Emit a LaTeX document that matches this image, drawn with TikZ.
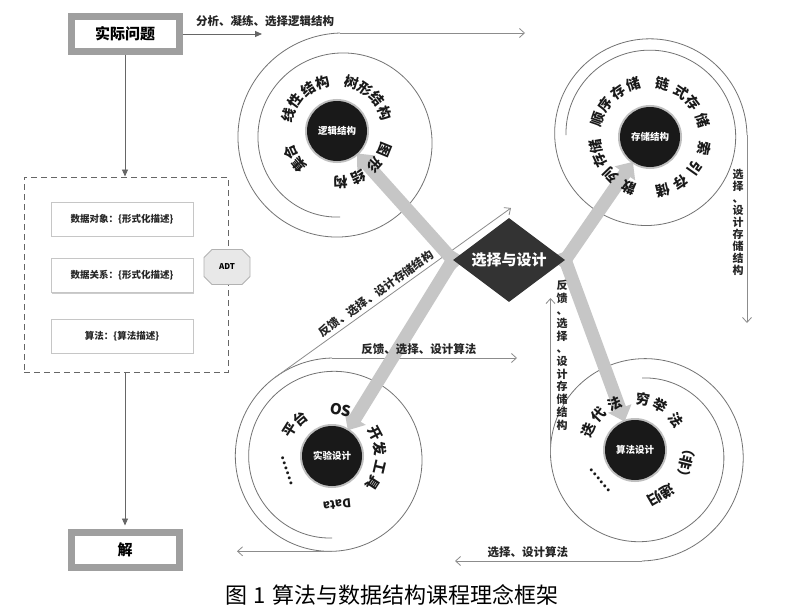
\documentclass[tikz,border=0pt]{standalone}
\usepackage{fontspec}
\newfontfamily\cjk{Noto Sans CJK SC}
\usetikzlibrary{calc, positioning}
\usetikzlibrary{arrows.meta}
\usetikzlibrary{shapes.geometric, shapes.misc}
\usetikzlibrary{backgrounds, shadows}

\tikzset{
  framebox/.style={draw=gray!75, line width=7pt, fill=white, minimum width=108pt, minimum height=35pt,
    font=\cjk\bfseries\fontsize{15}{15}\selectfont},
  dashbox/.style={draw=black!60, dash pattern=on 6pt off 4pt, line width=1pt, inner sep=0pt},
  itembox/.style={draw=gray!45, line width=0.8pt, fill=white, minimum width=142pt, minimum height=34pt,
    font=\cjk\bfseries\fontsize{9.5}{10}\selectfont, text=black!85,
    drop shadow={shadow xshift=1.2pt, shadow yshift=-1.2pt, fill=black, opacity=0.2}},
  adtbox/.style={chamfered rectangle, chamfered rectangle xsep=4pt, chamfered rectangle ysep=4pt,
    draw=gray!60, line width=0.8pt, fill=gray!18, minimum width=46pt, minimum height=35pt,
    font=\cjk\bfseries\fontsize{8}{8}\selectfont},
  disc/.style={circle, fill=black!90, minimum size=60pt, inner sep=0pt, text=white,
    font=\cjk\bfseries\fontsize{9.5}{10}\selectfont, preaction={draw=gray!50, line width=4pt}},
  choosebox/.style={diamond, aspect=1.33, fill=black!80, minimum width=112pt, minimum height=84pt,
    inner sep=0pt, text=white, font=\cjk\bfseries\fontsize{15}{15}\selectfont},
  ring/.style={draw=black!55, line width=0.8pt},
  exitline/.style={draw=black!45, line width=0.8pt, -{Straight Barb[length=5pt,width=9pt]}},
  flow/.style={draw=black!60, line width=0.9pt, -{Triangle[length=7pt,width=6pt]}},
  band/.style={draw=gray!45, line width=13pt, shorten <=-8pt, -{Triangle[length=14pt,width=24pt]}},
  arcch/.style={font=\cjk\bfseries\fontsize{14}{14}\selectfont, inner sep=0pt, text=black!90},
  lbl/.style={font=\cjk\bfseries\fontsize{11.5}{12}\selectfont, text=black!85},
  vlbl/.style={font=\cjk\bfseries\fontsize{11}{12}\selectfont, text=black!85, align=center, inner sep=0pt}
}

\begin{document}
\begin{tikzpicture}[x=1pt, y=-1pt]
\useasboundingbox (0,0) rectangle (800,610);

% left column
\node[framebox] (real) at (125,34) {实际问题};
\node[dashbox, minimum width=204pt, minimum height=195pt] (model) at (126,274.5) {};
\node[itembox] (obj) at (122,219) {数据对象：\{形式化描述\}};
\node[itembox] (rel) at (122,275.5) {数据关系：\{形式化描述\}};
\node[itembox] (alg) at (122,336) {算法：\{算法描述\}};
\node[adtbox] (adt) at (227,267) {ADT};
\node[framebox] (sol) at (125,550) {解};

\coordinate (anaTip) at (262,34);
\node[lbl] (anaLbl) at (265,21) {分析、凝练、选择逻辑结构};
\draw[flow] (real.east) -- (anaTip);
\draw[flow] (real.south) -- (real.south |- model.north);
\draw[flow, shorten >=3.5pt] (sol.north |- model.south) -- (sol.north);

% centre and the four discs
\node[choosebox] (choose) at (509,260) {选择与设计};
\node[disc] (logic) at (337,131) {逻辑结构};
\node[disc] (store) at (650,137) {存储结构};
\node[disc] (exp) at (332,456) {实验设计};
\node[disc] (algo) at (635,450) {算法设计};

\coordinate (logicOut) at (340,33);
\coordinate (logicTip) at (525,33);
\coordinate (storeOut) at (747,135);
\coordinate (storeTip) at (747,323);
\coordinate (expOut) at (332,358);
\coordinate (expTip) at (517,358);
\coordinate (expBottom) at (332,551.3);
\coordinate (expLeft) at (237,551.3);
\coordinate (expFb) at (275.4,377.2);
\coordinate (fbTip) at (511,208);
\coordinate (algoOut) at (642,561);
\coordinate (algoTip) at (455,561);
\coordinate (algoUp) at (550.5,455);
\coordinate (algoUpTip) at (550.5,298);

\begin{scope}[on background layer]
\fill[white] (0,0) rectangle (800,610);
% spirals
\draw[ring] plot[smooth, samples=150, domain=90:630]
  ({340+(77+30*(\x-90)/540)*cos(\x)},{140+(77+30*(\x-90)/540)*sin(\x)});
\draw[ring] plot[smooth, samples=150, domain=180:720]
  ({648+(82+17*(\x-180)/540)*cos(\x)},{135+(82+17*(\x-180)/540)*sin(\x)});
\draw[ring] plot[smooth, samples=150, domain=90:630]
  ({332+(80+20*(\x-90)/540)*cos(\x)},{458+(80+20*(\x-90)/540)*sin(\x)});
\draw[ring] plot[smooth, samples=150, domain=270:810]
  ({642+(77+29*(\x-270)/540)*cos(\x)},{455+(77+29*(\x-270)/540)*sin(\x)});

% exits of the spirals
\draw[exitline] (logicOut) -- (logicTip);
\draw[exitline] (storeOut) -- (storeTip);
\draw[exitline] (expOut) -- (expTip);
\draw[exitline] (expBottom) -- (expLeft);
\draw[exitline] (expFb) -- (fbTip);
\draw[exitline] (algoOut) -- (algoTip);
\draw[exitline] (algoUp) -- (algoUpTip);

% wide grey arrows
\draw[band] (choose.west) -- (logic);
\draw[band] (choose.west) -- (exp);
\draw[band] (choose.east) -- (store);
\draw[band] (choose.east) -- (algo);
\end{scope}

% labels of the exits
\path (expOut) -- node[lbl, above, pos=0.47] (algFbLbl) {反馈、选择、设计算法} (expTip);
\path (expFb) -- node[lbl, sloped, above, pos=0.45] (storeFbLbl) {反馈、选择、设计存储结构} (fbTip);
\path (algoOut) -- node[lbl, above, pos=0.61] (algLbl) {选择、设计算法} (algoTip);
\node[vlbl] (storeLbl) at (738,222) {选\\择\\、\\设\\计\\存\\储\\结\\构};
\node[vlbl, font=\cjk\bfseries\fontsize{11}{12.7}\selectfont] (algoLbl) at (562,355)
  {反\\馈\\、\\选\\择\\、\\设\\计\\存\\储\\结\\构};

% words round the discs
\foreach \c/\a in {线/198, 性/216, 结/236, 构/254, 树/287, 形/304, 结/321, 构/340,
                   图/22, 形/42, 结/65, 构/86, 集/139, 合/155}
  \node[arcch, rotate=-\a-90] at ($(logic)+(\a:51)$) {\c};
\foreach \c/\a in {顺/199, 序/216, 存/235, 储/252, 链/283, 式/305, 存/322, 储/342,
                   索/12, 引/35, 存/56, 储/76, 散/113, 列/136, 存/155, 储/170}
  \node[arcch, rotate=-\a-90] at ($(store)+(\a:55)$) {\c};
\foreach \c/\a in {平/212, 台/230, 开/332, 发/351, 工/13, 具/33}
  \node[arcch, rotate=-\a-90] at ($(exp)+(\a:49)$) {\c};
\node[arcch, font=\cjk\bfseries\fontsize{15}{15}\selectfont, rotate=-11] at ($(exp)+(281:47)$) {OS};
\node[arcch, font=\cjk\bfseries\fontsize{12}{12}\selectfont, rotate=-174] at ($(exp)+(84:49)$) {Data};
\node[arcch, rotate=-252] at ($(exp)+(162:47)$) {……};
\foreach \c/\a in {迭/203, 代/224, 法/246, 穷/279, 举/300, 法/324}
  \node[arcch, rotate=-\a-90] at ($(algo)+(\a:51)$) {\c};
\node[arcch, rotate=-104] at ($(algo)+(14:53)$) {（非）};
\node[arcch, rotate=-150] at ($(algo)+(60:52)$) {递归};
\node[arcch, rotate=-229] at ($(algo)+(139:46)$) {……};

\node[font=\cjk\fontsize{22}{22}\selectfont] (cap) at (392,595) {图\hspace{6pt}1\hspace{6pt}算法与数据结构课程理念框架};
\end{tikzpicture}
\end{document}
